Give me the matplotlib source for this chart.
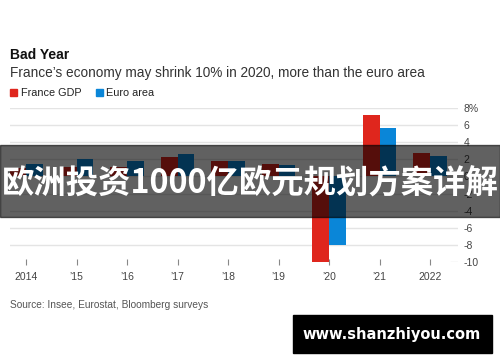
import matplotlib
matplotlib.use('Agg')
import matplotlib.pyplot as plt
import numpy as np
from matplotlib.patches import Rectangle

# data (annual GDP growth, %)
years = ['2014', '\u201915', '\u201916', '\u201917', '\u201918', '\u201919', '\u201920', '\u201921', '2022']
france_gdp = [1.0, 1.05, 1.05, 2.3, 1.75, 1.5, -10.0, 7.2, 2.7]
euro_area = [1.45, 2.05, 1.85, 2.6, 1.85, 1.3, -8.0, 5.65, 2.35]
y_ticks = [8, 6, 4, 2, 0, -2, -4, -6, -8, -10]
y_labels = ['8%', '6', '4', '2', '0', '-2', '-4', '-6', '-8', '-10']

red = '#df261d'
blue = '#0a86d8'
font = 'Liberation Sans'

fig = plt.figure(figsize=(5, 3.62), dpi=100)
ax = fig.add_axes([0.02, 1 - 262 / 362, 0.896, 154 / 362])

x = np.arange(len(years))
w = 0.33
ax.bar(x - w / 2, france_gdp, w, color=red, zorder=2)
ax.bar(x + w / 2, euro_area, w, color=blue, zorder=2)

ax.set_xlim(-0.317, 8.554)
ax.set_ylim(-10, 8)
for v in y_ticks[:-1]:
    ax.axhline(v, color='#e4e4e4', lw=1, zorder=1)
ax.axhline(-10, xmin=0.985, xmax=1, color='#e4e4e4', lw=1, zorder=1)

ax.yaxis.tick_right()
ax.set_yticks(y_ticks)
ax.set_yticklabels(y_labels, fontfamily=font, fontsize=7.5, color='#444444')
ax.tick_params(axis='y', length=0, pad=4)
ax.set_xticks(x)
ax.set_xticklabels(years, fontfamily=font, fontsize=7.5, color='#444444')
ax.tick_params(axis='x', length=4, direction='inout', color='#888888', width=0.8, pad=5)
for s in ax.spines.values():
    s.set_visible(False)

# titles and legend
fig.text(10 / 500, 1 - 55 / 362, 'Bad Year', fontfamily=font, fontsize=10,
         fontweight='bold', color='#111111', va='center')
fig.text(10 / 500, 1 - 73 / 362, 'France\u2019s economy may shrink 10% in 2020, more than the euro area',
         fontfamily=font, fontsize=9.8, color='#333333', va='center')
fig.add_artist(Rectangle((10 / 500, 1 - 96 / 362), 7 / 500, 7 / 362, color=red,
                         transform=fig.transFigure))
fig.text(21 / 500, 1 - 92.5 / 362, 'France GDP', fontfamily=font, fontsize=7.8,
         color='#222222', va='center')
fig.add_artist(Rectangle((96 / 500, 1 - 96 / 362), 7 / 500, 7 / 362, color=blue,
                         transform=fig.transFigure))
fig.text(106 / 500, 1 - 92.5 / 362, 'Euro area', fontfamily=font, fontsize=7.8,
         color='#222222', va='center')
fig.text(10 / 500, 1 - 305 / 362, 'Source: Insee, Eurostat, Bloomberg surveys',
         fontfamily=font, fontsize=7.3, color='#555555', va='center')

# overlay banner
fig.add_artist(Rectangle((0, 1 - 217 / 362), 1, 72 / 362, color='black', alpha=0.62,
                         transform=fig.transFigure, zorder=10))
fig.text(0.5, 1 - 184 / 362, '欧洲投资1000亿欧元规划方案详解',
         fontfamily=['Noto Sans CJK SC', 'DejaVu Sans'], fontsize=23.3, fontweight='bold',
         color='white', ha='center', va='center', zorder=11)

# watermark box
fig.add_artist(Rectangle((293 / 500, 1 - 353 / 362), 199 / 500, 38 / 362, color='black',
                         transform=fig.transFigure, zorder=10))
fig.text(392 / 500, 1 - 334 / 362, 'www.shanzhiyou.com', fontfamily='DejaVu Sans',
         fontsize=10.5, fontweight='bold', color='white', ha='center', va='center', zorder=11)

fig.savefig('out.png', dpi=100)
